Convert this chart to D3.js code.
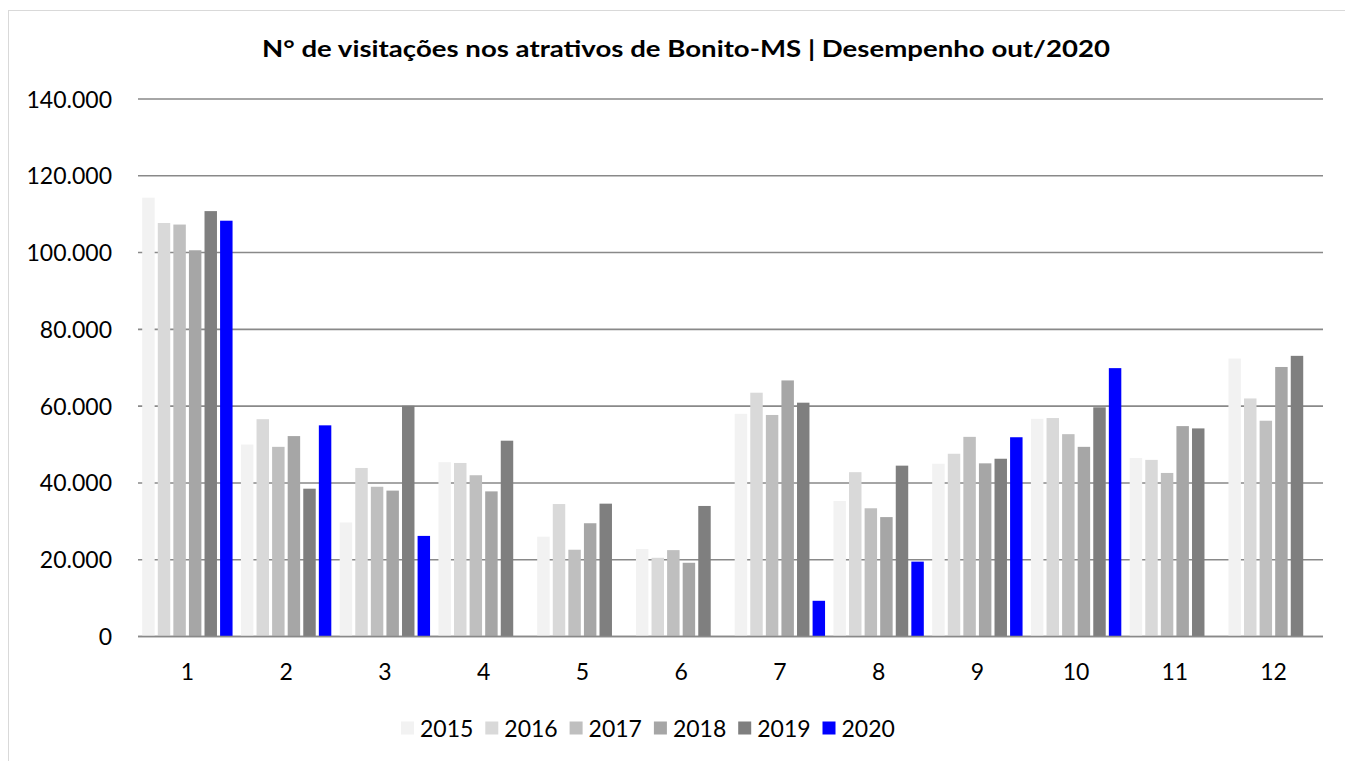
<!DOCTYPE html>
<html><head><meta charset="utf-8">
<script src="https://cdn.jsdelivr.net/npm/d3@7"></script>
<style>
html,body{margin:0;padding:0;background:#fff;}
svg{display:block;}
text{font-family:Lato,"Open Sans",sans-serif;fill:#000;}
</style></head>
<body>
<svg id="chart" width="1345" height="761"></svg>
<script>
const titleText = "N° de visitações nos atrativos de Bonito-MS | Desempenho out/2020";
const months = ["1","2","3","4","5","6","7","8","9","10","11","12"];
const years = ["2015","2016","2017","2018","2019","2020"];
const colors = ["#f2f2f2","#d9d9d9","#bfbfbf","#a6a6a6","#7f7f7f","#0000ff"];
const yTicks = [0,20000,40000,60000,80000,100000,120000,140000];

const v2015 = [114300,50000,29700,45400,26000,22800,58000,35300,45000,56700,46500,72400];
const v2016 = [107700,56600,43900,45200,34500,20500,63500,42800,47600,56900,46000,62000];
const v2017 = [107300,49400,39000,42000,22600,22500,57700,33400,52000,52700,42600,56200];
const v2018 = [100600,52200,38000,37800,29500,19200,66700,31100,45100,49400,54800,70200];
const v2019 = [110800,38500,60100,51000,34600,34000,60900,44500,46300,59700,54200,73100];
const v2020 = [108300,55000,26200,null,null,null,9300,19500,51900,69900,null,null];
const series = [v2015,v2016,v2017,v2018,v2019,v2020];

(function(){
const svg = d3.select("#chart");
const W = 1345, H = 761;
const pLeft = 138, pRight = 1323, pTop = 99, pBottom = 636.5;

svg.append("rect").attr("x",8.5).attr("y",10.5).attr("width",W).attr("height",H)
  .attr("fill","none").attr("stroke","#d9d9d9").attr("stroke-width",1);

const loc = d3.formatLocale({decimal:",",thousands:".",grouping:[3],currency:["",""]});
const fmt = loc.format(",d");

const y = d3.scaleLinear().domain([0,140000]).range([pBottom, pTop]);
const x0 = d3.scaleBand().domain(months).range([pLeft,pRight]).paddingInner(0.085).paddingOuter(0.0425);
const x1 = d3.scaleBand().domain(years).range([0,x0.bandwidth()]).paddingInner(0.2);

svg.append("g").selectAll("line").data(yTicks).join("line")
  .attr("x1",pLeft).attr("x2",pRight)
  .attr("y1",d=>y(d)).attr("y2",d=>y(d))
  .attr("stroke","#898989").attr("stroke-width",1.6);

const data = [];
months.forEach((m,i)=>years.forEach((yr,j)=>{
  const v = series[j][i];
  if(v!=null) data.push({m,yr,v,c:colors[j]});
}));
svg.append("g").selectAll("rect").data(data).join("rect")
  .attr("x",d=>x0(d.m)+x1(d.yr))
  .attr("width",x1.bandwidth())
  .attr("y",d=>y(d.v))
  .attr("height",d=>y(0)-y(d.v))
  .attr("fill",d=>d.c);

svg.append("line").attr("x1",pLeft).attr("x2",pRight).attr("y1",y(0)).attr("y2",y(0))
  .attr("stroke","#898989").attr("stroke-width",1.6);

const yAxis = d3.axisLeft(y).tickValues(yTicks).tickFormat(fmt).tickSize(0).tickPadding(0);
const ya = svg.append("g").attr("transform","translate(112,0)").call(yAxis);
ya.select(".domain").remove();
ya.selectAll("text").attr("font-family","Lato").attr("font-size",23).attr("fill","#000").attr("dy","0.35em");

const xAxis = d3.axisBottom(x0).tickSize(0).tickPadding(0);
const xa = svg.append("g").attr("transform",`translate(0,${pBottom})`).call(xAxis);
xa.select(".domain").remove();
xa.selectAll("text").attr("font-family","Lato").attr("font-size",23).attr("fill","#000").attr("dy",null).attr("y",43);

svg.append("text").attr("x",262).attr("y",57)
  .attr("font-family","'Open Sans',Lato,sans-serif")
  .attr("font-weight","bold").attr("font-size",22)
  .attr("textLength",848).attr("lengthAdjust","spacingAndGlyphs")
  .text(titleText);

const legX = d3.scaleBand().domain(years).range([401, 401+84.3*6]);
const items = svg.append("g").selectAll("g").data(years).join("g")
  .attr("transform",d=>`translate(${legX(d)},0)`);
items.append("rect").attr("x",0).attr("y",721.5).attr("width",13).attr("height",13)
  .attr("fill",(d,i)=>colors[i]);
items.append("text").attr("x",19).attr("y",736.5).attr("font-size",23).text(d=>d);
})();
</script>
</body></html>
